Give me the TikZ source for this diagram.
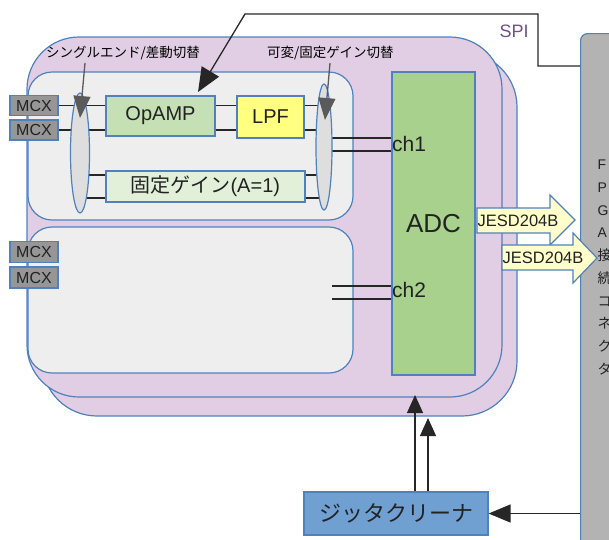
\documentclass[tikz,border=0pt]{standalone}
\usepackage{fontspec}
\setmainfont{Liberation Sans}
\newfontfamily\jp{Noto Sans CJK JP}
\usetikzlibrary{arrows.meta,calc,shapes.geometric}

\definecolor{board}{RGB}{225,206,228}
\definecolor{edge}{RGB}{79,129,189}
\definecolor{panel}{RGB}{238,238,238}
\definecolor{ampfill}{RGB}{197,224,180}
\definecolor{lpffill}{RGB}{255,255,128}
\definecolor{fixfill}{RGB}{226,240,217}
\definecolor{adcfill}{RGB}{169,209,142}
\definecolor{mcxfill}{RGB}{150,150,150}
\definecolor{selfill}{RGB}{222,222,222}
\definecolor{jesdfill}{RGB}{255,255,204}
\definecolor{jitfill}{RGB}{112,160,210}
\definecolor{hostfill}{RGB}{179,179,179}
\definecolor{spitext}{RGB}{112,80,140}
\definecolor{ink}{RGB}{34,34,34}
\definecolor{pointer}{RGB}{90,90,90}

\newcommand\fsz[1]{\fontsize{#1}{#1}\selectfont}

\begin{document}
\begin{tikzpicture}[x=1pt,y=-1pt,
  blk/.style={draw=edge, line width=1.2pt, inner sep=0pt, text=ink},
  wire/.style={draw=black!85, line width=1.2pt},
  sel/.style={ellipse, draw=edge, line width=1.2pt, fill=selfill, inner sep=0pt},
  mcx/.style={blk, fill=mcxfill, minimum width=48pt, font=\fsz{16}},
  lbl/.style={font=\jp\fsz{13.5}, text=black, inner sep=0pt},
  pointer arrow/.style={draw=pointer, line width=1.3pt,
    -{Triangle[length=22pt,width=17pt]}, pointer},
  spi arrow/.style={draw=black!85, line width=1.3pt,
    -{Triangle[length=24pt,width=20pt]}},
  clk arrow/.style={draw=black!85, line width=1.3pt,
    -{Triangle[length=18pt,width=16pt]}},
  jesd/.style={draw=edge, line width=1.2pt, fill=jesdfill},
  jesdtext/.style={font=\fsz{16.5}, text=ink, inner sep=0pt}
]
\clip (0,0) rectangle (609,539);

% host board on the right (runs past the edge)
\node[blk, fill=hostfill, rounded corners=7pt, minimum width=80pt,
  minimum height=540pt, anchor=north west] (host) at (580,33) {};
\node[anchor=north west, align=left, inner sep=0pt, text=ink,
  font=\fontsize{14}{22.7}\selectfont] (hostlbl) at (597.5,160)
  {F\\P\\G\\A\\{\jp 接}\\{\jp 続}\\{\jp コ}\\{\jp ネ}\\{\jp ク}\\{\jp タ}};

% two stacked AD boards
\draw[draw=edge, line width=1.2pt, fill=board, rounded corners=55pt]
  (42,52) rectangle (517,416);
\draw[draw=edge, line width=1.2pt, fill=board, rounded corners=52pt]
  (27,37) rectangle (502,397);

% analog front-end panels
\draw[draw=edge, line width=1.2pt, fill=panel, rounded corners=24pt]
  (28,72) rectangle (353,220);
\draw[draw=edge, line width=1.2pt, fill=panel, rounded corners=24pt]
  (28,227) rectangle (353,373);

% blocks
\node[blk, fill=ampfill, minimum width=109pt, minimum height=40pt,
  font=\fsz{20}] (opamp) at (160.5,116) {OpAMP};
\node[blk, fill=lpffill, minimum width=67pt, minimum height=42pt,
  font=\fsz{20}] (lpf) at (270.5,117) {LPF};
\node[blk, fill=fixfill, minimum width=199pt, minimum height=31pt,
  font=\fsz{20}] (fix) at (205.5,186.5) {{\jp 固定ゲイン}(A=1)};
\node[blk, fill=adcfill, minimum width=83pt, minimum height=303pt,
  font=\fsz{26}] (adc) at (433.5,223.5) {ADC};

% connectors
\node[mcx, minimum height=20pt] (mcx1) at (34,105.5) {MCX};
\node[mcx, minimum height=20pt] (mcx2) at (34,130) {MCX};
\node[mcx, minimum height=21pt] (mcx3) at (34,252) {MCX};
\node[mcx, minimum height=21pt] (mcx4) at (34,277.5) {MCX};

% selector switches (positions only, drawn later over the wires)
\coordinate (sel1c) at (80,153);
\coordinate (sel2c) at (324,147);

% wiring
\coordinate (g1) at (0,175);
\coordinate (g2) at (0,198);
\coordinate (c1a) at (0,138);
\coordinate (c1b) at (0,151);
\coordinate (c2a) at (332,286);
\coordinate (c2b) at (332,299);
\draw[wire] (mcx1.east) -- (mcx1.east -| opamp.west);
\draw[wire] (mcx2.east) -- (mcx2.east -| opamp.west);
\draw[wire] (opamp.east |- mcx1.east) -- (lpf.west |- mcx1.east);
\draw[wire] (opamp.east |- mcx2.east) -- (lpf.west |- mcx2.east);
\draw[wire] (lpf.east |- mcx1.east) -- (sel2c |- mcx1.east);
\draw[wire] (lpf.east |- mcx2.east) -- (sel2c |- mcx2.east);
\draw[wire] (sel1c |- g1) -- (fix.west |- g1);
\draw[wire] (sel1c |- g2) -- (fix.west |- g2);
\draw[wire] (fix.east |- g1) -- (sel2c |- g1);
\draw[wire] (fix.east |- g2) -- (sel2c |- g2);
\draw[wire] (sel2c |- c1a) -- (adc.west |- c1a);
\draw[wire] (sel2c |- c1b) -- (adc.west |- c1b);
\draw[wire] (c2a) -- (adc.west |- c2a);
\draw[wire] (c2b) -- (adc.west |- c2b);

\node[sel, minimum width=19pt, minimum height=120pt] (sel1) at (sel1c) {};
\node[sel, minimum width=16pt, minimum height=126pt] (sel2) at (sel2c) {};

% channel labels
\node[anchor=west, inner sep=0pt, font=\fsz{21}, text=ink] (ch1) at (392,144) {ch1};
\node[anchor=west, inner sep=0pt, font=\fsz{21}, text=ink] (ch2) at (392,290) {ch2};

% switch labels and pointers
\node[lbl, anchor=west] (lblA) at (46,53) {シングルエンド/差動切替};
\node[lbl, anchor=west] (lblB) at (267,53) {可変/固定ゲイン切替};
\coordinate (pA) at (85,63);
\coordinate (pB) at (330,63);
\coordinate (tA) at (80,118);
\coordinate (tB) at (325,120);
\draw[pointer arrow] (pA) -- (tA);
\draw[pointer arrow] (pB) -- (tB);

% SPI control line
\coordinate (spiA) at (538,66);
\coordinate (spiB) at (538,14);
\coordinate (spiC) at (245,14);
\coordinate (spiT) at (198,92);
\draw[spi arrow] (host.west |- spiA) -- (spiA) -- (spiB) -- (spiC) -- (spiT);
\node[font=\fsz{18}, text=spitext, inner sep=0pt] (spi) at (514,31) {SPI};

% JESD204B links
\draw[jesd] (477,208) -- (550,208) -- (550,195) -- (575,220) -- (550,245)
  -- (550,233) -- (477,233) -- cycle;
\node[jesdtext] (jesd1) at (518,220.5) {JESD204B};
\draw[jesd] (502,245) -- (573,245) -- (573,233) -- (597,258) -- (573,283)
  -- (573,270) -- (502,270) -- cycle;
\node[jesdtext] (jesd2) at (543,258) {JESD204B};

% jitter cleaner
\node[blk, fill=jitfill, minimum width=184pt, minimum height=43pt,
  font=\jp\fsz{22}] (jit) at (396,513.5) {ジッタクリーナ};
\coordinate (ck1) at (415,395);
\coordinate (ck2) at (428,418);
\draw[clk arrow] (jit.north -| ck1) -- (ck1);
\draw[clk arrow] (jit.north -| ck2) -- (ck2);
\draw[draw=black!85, line width=1.3pt, -{Triangle[length=22pt,width=18pt]}]
  (host.west |- jit.east) -- (jit.east);
\end{tikzpicture}
\end{document}
